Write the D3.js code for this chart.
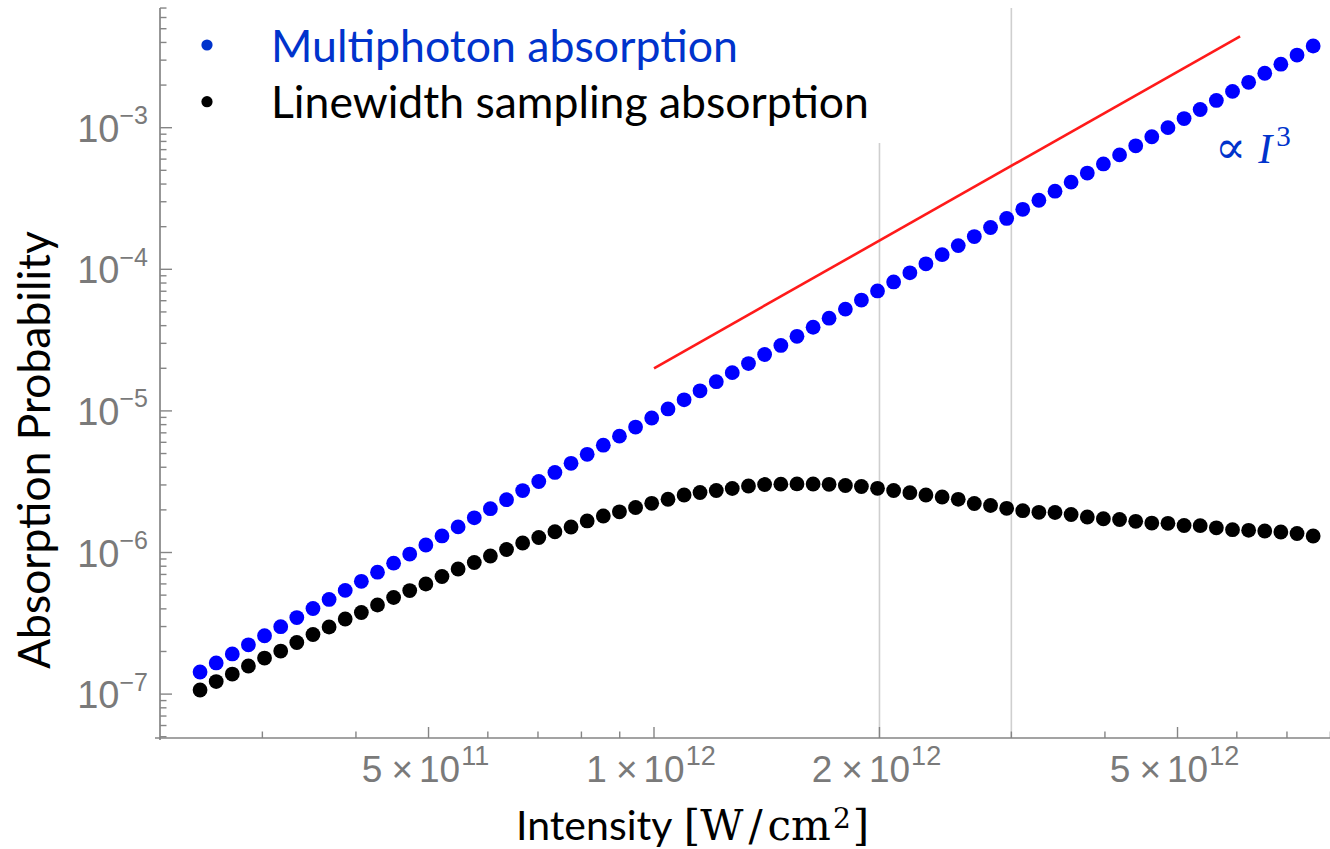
<!DOCTYPE html>
<html>
<head>
<meta charset="utf-8">
<script src="https://cdn.jsdelivr.net/npm/d3@7"></script>
<style>
  html, body { margin: 0; padding: 0; background: #ffffff; }
  svg { display: block; }
</style>
</head>
<body>
<svg id="chart" width="1330" height="849"></svg>
<script>
// Laser intensity (W/cm^2) for each computed point
const intensity = [
  2.477e11, 2.603e11, 2.735e11, 2.874e11, 3.020e11, 3.174e11, 3.335e11, 3.505e11, 3.683e11, 3.870e11,
  4.067e11, 4.274e11, 4.491e11, 4.719e11, 4.959e11, 5.211e11, 5.476e11, 5.755e11, 6.047e11, 6.355e11,
  6.678e11, 7.017e11, 7.374e11, 7.749e11, 8.143e11, 8.557e11, 8.992e11, 9.449e11, 9.930e11, 1.044e12,
  1.097e12, 1.152e12, 1.211e12, 1.272e12, 1.337e12, 1.405e12, 1.477e12, 1.552e12, 1.631e12, 1.713e12,
  1.801e12, 1.892e12, 1.988e12, 2.089e12, 2.196e12, 2.307e12, 2.425e12, 2.548e12, 2.677e12, 2.814e12,
  2.957e12, 3.107e12, 3.265e12, 3.431e12, 3.605e12, 3.789e12, 3.981e12, 4.184e12, 4.397e12, 4.620e12,
  4.855e12, 5.102e12, 5.361e12, 5.634e12, 5.921e12, 6.222e12, 6.538e12, 6.870e12, 7.220e12, 7.587e12
];

// Multiphoton absorption probability
const multiphoton = [
  1.432e-7, 1.660e-7, 1.923e-7, 2.229e-7, 2.584e-7, 2.994e-7, 3.470e-7, 4.022e-7, 4.661e-7, 5.402e-7,
  6.261e-7, 7.257e-7, 8.410e-7, 9.747e-7, 1.130e-6, 1.309e-6, 1.517e-6, 1.759e-6, 2.038e-6, 2.362e-6,
  2.738e-6, 3.173e-6, 3.677e-6, 4.262e-6, 4.939e-6, 5.724e-6, 6.634e-6, 7.689e-6, 8.911e-6, 1.033e-5,
  1.197e-5, 1.387e-5, 1.608e-5, 1.863e-5, 2.160e-5, 2.503e-5, 2.901e-5, 3.362e-5, 3.896e-5, 4.516e-5,
  5.234e-5, 6.065e-5, 7.030e-5, 8.147e-5, 9.442e-5, 1.094e-4, 1.268e-4, 1.470e-4, 1.704e-4, 1.974e-4,
  2.288e-4, 2.652e-4, 3.074e-4, 3.562e-4, 4.128e-4, 4.785e-4, 5.545e-4, 6.427e-4, 7.449e-4, 8.633e-4,
  1.001e-3, 1.160e-3, 1.344e-3, 1.558e-3, 1.805e-3, 2.092e-3, 2.425e-3, 2.810e-3, 3.257e-3, 3.775e-3
];

// Linewidth sampling absorption probability
const linewidth = [
  1.069e-7, 1.227e-7, 1.386e-7, 1.579e-7, 1.798e-7, 2.014e-7, 2.314e-7, 2.636e-7, 2.978e-7, 3.392e-7,
  3.770e-7, 4.258e-7, 4.810e-7, 5.388e-7, 5.990e-7, 6.768e-7, 7.646e-7, 8.500e-7, 9.447e-7, 1.050e-6,
  1.167e-6, 1.276e-6, 1.402e-6, 1.514e-6, 1.670e-6, 1.811e-6, 1.938e-6, 2.079e-6, 2.225e-6, 2.378e-6,
  2.547e-6, 2.653e-6, 2.741e-6, 2.831e-6, 2.949e-6, 3.021e-6, 3.040e-6, 3.050e-6, 3.046e-6, 3.031e-6,
  2.973e-6, 2.925e-6, 2.841e-6, 2.741e-6, 2.644e-6, 2.547e-6, 2.465e-6, 2.375e-6, 2.218e-6, 2.147e-6,
  2.051e-6, 1.973e-6, 1.922e-6, 1.916e-6, 1.855e-6, 1.781e-6, 1.732e-6, 1.710e-6, 1.660e-6, 1.615e-6,
  1.607e-6, 1.551e-6, 1.546e-6, 1.494e-6, 1.449e-6, 1.435e-6, 1.419e-6, 1.396e-6, 1.362e-6, 1.308e-6
];

// Cubic guide line (∝ I^3)
const guideIntensity = [1.0e12, 6.06e12];
const guideValue = [2.0e-5, 4.42e-3];

// Vertical reference lines
const markerIntensity = [2e12, 3e12];

// Axis ticks and labels
const xMajorTicks = [5e11, 1e12, 2e12, 5e12];
const xTickMantissa = ["5", "1", "2", "5"];
const xTickExponent = ["11", "12", "12", "12"];
const yMajorTicks = [1e-7, 1e-6, 1e-5, 1e-4, 1e-3];
const yTickExponent = ["\u22127", "\u22126", "\u22125", "\u22124", "\u22123"];

const legendLabels = ["Multiphoton absorption", "Linewidth sampling absorption"];
const seriesColors = ["#0000ff", "#000000"];
const legendColors = ["#0033cc", "#000000"];

// ---- layout ----
const plot = { left: 160, right: 1330.4, top: 8, bottom: 738 };
const axisColor = "#858585";
const labelColor = "#7a7a7a";

const svg = d3.select("#chart");

const x = d3.scaleLog().domain([2.19e11, 8.0e12]).range([plot.left, plot.right]);
const y = d3.scaleLog().domain([4.898e-8, 7.004e-3]).range([plot.bottom, plot.top]);

// reference lines
svg.append("g").selectAll("line")
  .data(markerIntensity)
  .join("line")
  .attr("x1", d => x(d)).attr("x2", d => x(d))
  .attr("y1", plot.top).attr("y2", plot.bottom)
  .attr("stroke", "#cfcfcf").attr("stroke-width", 1.6);

// x axis
const xMinor = x.ticks().filter(t => !xMajorTicks.some(m => Math.abs(m - t) / m < 1e-6));
const xAxisG = svg.append("g").attr("transform", `translate(0,${plot.bottom})`);
xAxisG.append("line")
  .attr("x1", plot.left - 5).attr("x2", plot.right)
  .attr("stroke", axisColor).attr("stroke-width", 1.7);
xAxisG.selectAll(".minor").data(xMinor).join("line")
  .attr("class", "minor")
  .attr("x1", d => x(d)).attr("x2", d => x(d))
  .attr("y1", 0).attr("y2", -6.5)
  .attr("stroke", axisColor).attr("stroke-width", 1.4);
xAxisG.selectAll(".major").data(xMajorTicks).join("line")
  .attr("class", "major")
  .attr("x1", d => x(d)).attr("x2", d => x(d))
  .attr("y1", 0).attr("y2", -11)
  .attr("stroke", axisColor).attr("stroke-width", 1.4);

const xLabels = svg.append("g")
  .attr("font-family", "'Liberation Sans', Arial, sans-serif")
  .attr("fill", labelColor);
xMajorTicks.forEach((t, i) => {
  const txt = xLabels.append("text")
    .attr("x", x(t) - 3).attr("y", plot.bottom + 44)
    .attr("text-anchor", "middle")
    .attr("font-size", 37);
  txt.append("tspan").text(xTickMantissa[i]);
  txt.append("tspan").attr("dx", 9).text("\u00d7");
  txt.append("tspan").attr("dx", 6).text("10");
  txt.append("tspan").attr("font-size", 27).attr("dy", -17).attr("dx", 1).text(xTickExponent[i]);
});

// y axis
const yMinor = y.ticks().filter(t => !yMajorTicks.some(m => Math.abs(m - t) / m < 1e-6));
const yAxisG = svg.append("g").attr("transform", `translate(${plot.left},0)`);
yAxisG.append("line")
  .attr("y1", plot.top).attr("y2", plot.bottom + 2)
  .attr("stroke", axisColor).attr("stroke-width", 1.7);
yAxisG.selectAll(".minor").data(yMinor).join("line")
  .attr("class", "minor")
  .attr("y1", d => y(d)).attr("y2", d => y(d))
  .attr("x1", 0).attr("x2", 6.5)
  .attr("stroke", axisColor).attr("stroke-width", 1.4);
yAxisG.selectAll(".major").data(yMajorTicks).join("line")
  .attr("class", "major")
  .attr("y1", d => y(d)).attr("y2", d => y(d))
  .attr("x1", 0).attr("x2", 12)
  .attr("stroke", axisColor).attr("stroke-width", 1.4);

const yLabels = svg.append("g")
  .attr("font-family", "'Liberation Sans', Arial, sans-serif")
  .attr("fill", labelColor);
yMajorTicks.forEach((t, i) => {
  const txt = yLabels.append("text")
    .attr("x", plot.left - 12).attr("y", y(t) + 14)
    .attr("text-anchor", "end")
    .attr("font-size", 38);
  txt.append("tspan").text("10");
  txt.append("tspan").attr("font-size", 25).attr("dy", -17.5).text(yTickExponent[i]);
});

// legend box (white fill sits over the reference lines)
const legend = svg.append("g");
legend.append("rect")
  .attr("x", 180).attr("y", 0).attr("width", 715).attr("height", 143)
  .attr("fill", "#ffffff");
const legendRows = [45, 101.7];
const legendBaselines = [61.7, 118.3];
const legendWidths = [467, 598];
legendLabels.forEach((lab, i) => {
  legend.append("circle")
    .attr("cx", 207).attr("cy", legendRows[i]).attr("r", 5.6)
    .attr("fill", legendColors[i]);
  const t = legend.append("text")
    .attr("x", 271).attr("y", legendBaselines[i])
    .attr("font-family", "Lato, 'Open Sans', sans-serif")
    .attr("font-size", 40)
    .attr("fill", legendColors[i])
    .text(lab);
  const w = t.node().getComputedTextLength();
  t.attr("font-size", 40 * legendWidths[i] / w);
});

// guide line
svg.append("line")
  .attr("x1", x(guideIntensity[0])).attr("y1", y(guideValue[0]))
  .attr("x2", x(guideIntensity[1])).attr("y2", y(guideValue[1]))
  .attr("stroke", "#ff1a1a").attr("stroke-width", 2.6);

// data points
const series = [multiphoton, linewidth];
series.forEach((vals, s) => {
  svg.append("g").selectAll("circle")
    .data(intensity.map((I, i) => [I, vals[i]]))
    .join("circle")
    .attr("cx", d => x(d[0]))
    .attr("cy", d => y(d[1]))
    .attr("r", 7.4)
    .attr("fill", seriesColors[s]);
});

// ∝ I^3 annotation
const ann = svg.append("text")
  .attr("x", 1215).attr("y", 163)
  .attr("font-family", "'DejaVu Serif', 'Liberation Serif', serif")
  .attr("font-size", 46)
  .attr("fill", "#0033cc");
ann.append("tspan").text("\u221d");
ann.append("tspan").attr("dx", 12).attr("font-family", "'Liberation Serif', serif")
  .attr("font-style", "italic").attr("font-size", 42).text("I");
ann.append("tspan").attr("dx", 4).attr("dy", -17).attr("font-size", 29)
  .attr("font-family", "'Liberation Serif', serif").text("3");

// axis titles
const yTitle = svg.append("text")
  .attr("transform", "translate(50,450) rotate(-90)")
  .attr("text-anchor", "middle")
  .attr("font-family", "Lato, 'Open Sans', sans-serif")
  .attr("font-size", 40)
  .attr("fill", "#000000")
  .text("Absorption Probability");
const yw = yTitle.node().getComputedTextLength();
yTitle.attr("font-size", 40 * 438 / yw);

const serifFont = "'DejaVu Serif', 'Liberation Serif', serif";
const xTitle = svg.append("text")
  .attr("x", 516).attr("y", 840)
  .attr("fill", "#000000");
xTitle.append("tspan")
  .attr("font-family", "Lato, 'Open Sans', sans-serif")
  .attr("font-size", 41)
  .text("Intensity ");
xTitle.append("tspan")
  .attr("font-family", serifFont).attr("font-size", 42).attr("dx", 2)
  .text("[W");
xTitle.append("tspan")
  .attr("font-family", serifFont).attr("font-size", 42).attr("dx", 5)
  .text("/");
xTitle.append("tspan")
  .attr("font-family", serifFont).attr("font-size", 42).attr("dx", 5)
  .text("cm");
xTitle.append("tspan")
  .attr("font-family", serifFont)
  .attr("font-size", 28).attr("dy", -12).attr("dx", 2)
  .text("2");
xTitle.append("tspan")
  .attr("font-family", serifFont)
  .attr("font-size", 42).attr("dy", 12).attr("dx", 2)
  .text("]");
</script>
</body>
</html>
